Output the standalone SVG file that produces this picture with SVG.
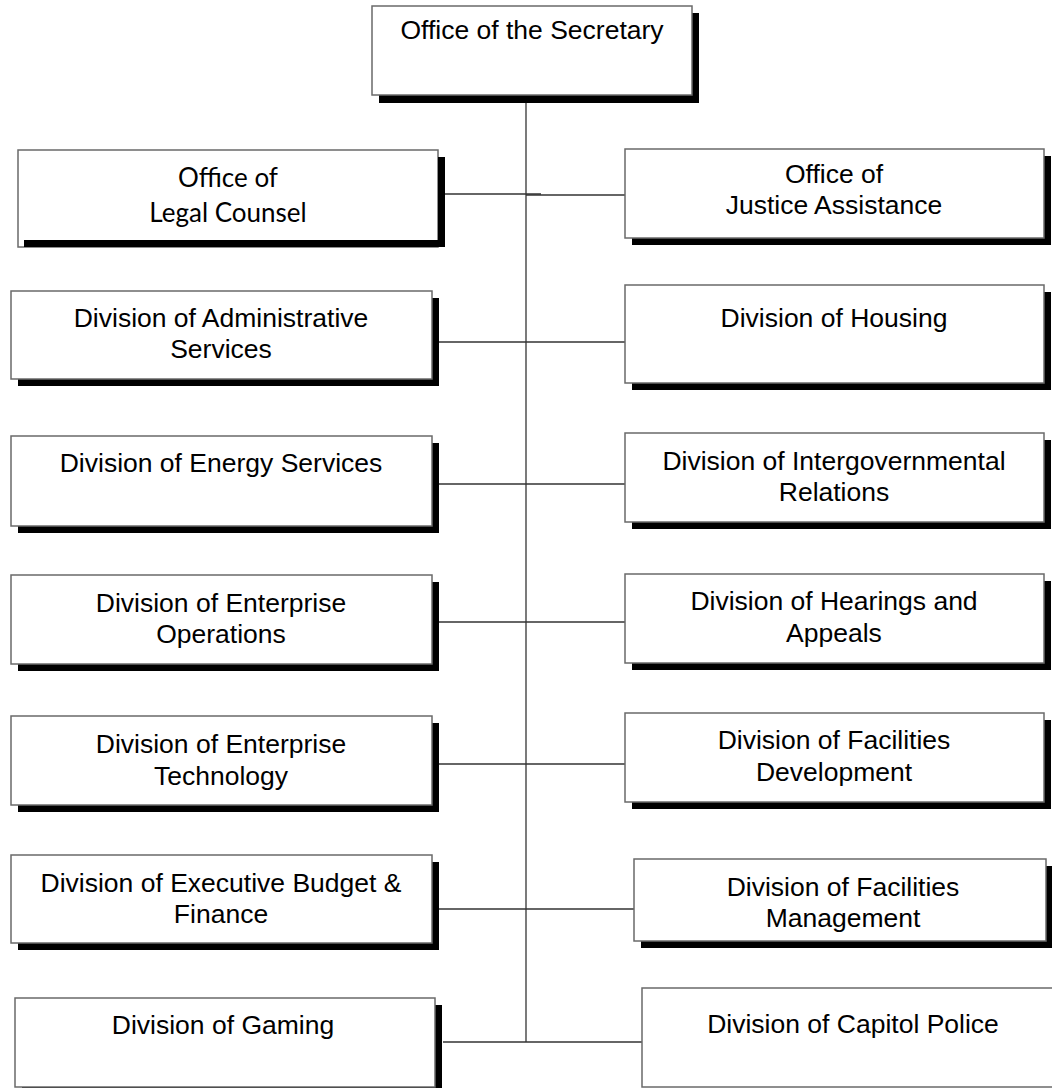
<svg xmlns="http://www.w3.org/2000/svg" width="1052" height="1088" viewBox="0 0 1052 1088">
<style>
.box{fill:#ffffff;stroke:#6a6a6a;stroke-width:1.5}
.sh{fill:#000000}
.t{font-family:"Liberation Sans",Arial,sans-serif;font-size:26.5px;fill:#000000;text-anchor:middle}
.tc{font-family:Lato,"Open Sans",sans-serif;font-size:26px;fill:#000000;text-anchor:middle}
.ln{stroke:#333333;stroke-width:1.3;fill:none}
</style>
<rect width="1052" height="1088" fill="#ffffff"/>
<g id="connectors">
<line class="ln" x1="526" y1="103" x2="526" y2="1042"/>
<line class="ln" x1="445" y1="194" x2="541" y2="194"/>
<line class="ln" x1="526" y1="195" x2="625" y2="195"/>
<line class="ln" x1="439" y1="342" x2="625" y2="342"/>
<line class="ln" x1="439" y1="484" x2="625" y2="484"/>
<line class="ln" x1="439" y1="622" x2="625" y2="622"/>
<line class="ln" x1="439" y1="764" x2="625" y2="764"/>
<line class="ln" x1="439" y1="909" x2="634" y2="909"/>
<line class="ln" x1="443" y1="1042" x2="642" y2="1042"/>
</g>
<g id="secretary">
<rect class="sh" x="379" y="13" width="320" height="90"/>
<rect class="box" x="372" y="6" width="320" height="89"/>
<text class="t" x="532" y="39">Office of the Secretary</text>
</g>
<g id="legal-counsel">
<rect class="box" x="18" y="150" width="420" height="97"/>
<text class="tc" x="228" y="187">Office of</text>
<text class="tc" x="228" y="222">Legal Counsel</text>
<rect class="sh" x="24" y="240" width="421" height="7"/>
<rect class="sh" x="438" y="157" width="7" height="90"/>
</g>
<g id="justice-assistance">
<rect class="sh" x="632" y="156" width="419" height="89"/>
<rect class="box" x="625" y="149" width="419" height="89"/>
<text class="t" x="834" y="183">Office of</text>
<text class="t" x="834" y="214">Justice Assistance</text>
</g>
<g id="administrative-services">
<rect class="sh" x="18" y="298" width="421" height="88"/>
<rect class="box" x="11" y="291" width="421" height="88"/>
<text class="t" x="221" y="327">Division of Administrative</text>
<text class="t" x="221" y="358">Services</text>
</g>
<g id="housing">
<rect class="sh" x="632" y="292" width="419" height="98"/>
<rect class="box" x="625" y="285" width="419" height="98"/>
<text class="t" x="834" y="327">Division of Housing</text>
</g>
<g id="energy-services">
<rect class="sh" x="18" y="443" width="421" height="90"/>
<rect class="box" x="11" y="436" width="421" height="90"/>
<text class="t" x="221" y="472">Division of Energy Services</text>
</g>
<g id="intergovernmental-relations">
<rect class="sh" x="632" y="440" width="419" height="89"/>
<rect class="box" x="625" y="433" width="419" height="89"/>
<text class="t" x="834" y="470">Division of Intergovernmental</text>
<text class="t" x="834" y="501">Relations</text>
</g>
<g id="enterprise-operations">
<rect class="sh" x="18" y="582" width="421" height="89"/>
<rect class="box" x="11" y="575" width="421" height="89"/>
<text class="t" x="221" y="612">Division of Enterprise</text>
<text class="t" x="221" y="643">Operations</text>
</g>
<g id="hearings-appeals">
<rect class="sh" x="632" y="581" width="419" height="89"/>
<rect class="box" x="625" y="574" width="419" height="89"/>
<text class="t" x="834" y="610">Division of Hearings and</text>
<text class="t" x="834" y="642">Appeals</text>
</g>
<g id="enterprise-technology">
<rect class="sh" x="18" y="723" width="421" height="89"/>
<rect class="box" x="11" y="716" width="421" height="89"/>
<text class="t" x="221" y="753">Division of Enterprise</text>
<text class="t" x="221" y="785">Technology</text>
</g>
<g id="facilities-development">
<rect class="sh" x="632" y="720" width="419" height="89"/>
<rect class="box" x="625" y="713" width="419" height="89"/>
<text class="t" x="834" y="749">Division of Facilities</text>
<text class="t" x="834" y="781">Development</text>
</g>
<g id="executive-budget-finance">
<rect class="sh" x="18" y="862" width="421" height="88"/>
<rect class="box" x="11" y="855" width="421" height="88"/>
<text class="t" x="221" y="892">Division of Executive Budget &amp;</text>
<text class="t" x="221" y="923">Finance</text>
</g>
<g id="facilities-management">
<rect class="sh" x="641" y="866" width="412" height="82"/>
<rect class="box" x="634" y="859" width="412" height="82"/>
<text class="t" x="843" y="896">Division of Facilities</text>
<text class="t" x="843" y="927">Management</text>
</g>
<g id="gaming">
<rect class="sh" x="22" y="1005" width="420" height="89"/>
<rect class="box" x="15" y="998" width="420" height="89"/>
<text class="t" x="223" y="1034">Division of Gaming</text>
</g>
<g id="capitol-police">
<rect class="box" x="642" y="988" width="422" height="99"/>
<text class="t" x="853" y="1033">Division of Capitol Police</text>
</g>
</svg>
